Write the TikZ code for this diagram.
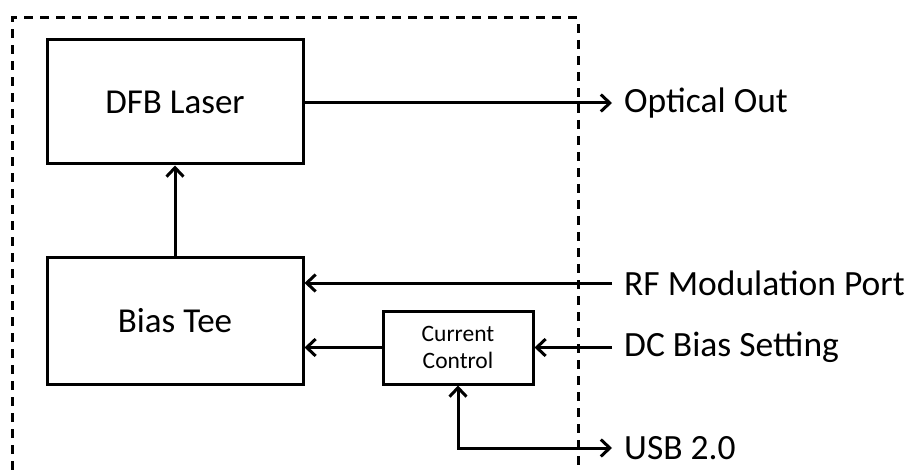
\documentclass[tikz,border=0pt]{standalone}
\usepackage{fontspec}
\setmainfont{Carlito}
\usetikzlibrary{arrows.meta}
\begin{document}
\begin{tikzpicture}[x=1pt,y=-1pt,
  blk/.style={draw=black, line width=3pt, minimum width=256pt, font=\fontsize{35}{40}\selectfont, inner sep=0pt},
  smallblk/.style={draw=black, line width=3pt, minimum width=150pt, minimum height=73pt, align=center, font=\fontsize{23.5}{27}\selectfont, inner sep=0pt},
  lbl/.style={anchor=west, inner xsep=12pt, inner ysep=0pt, font=\fontsize{35.5}{40}\selectfont},
  arr/.style={line width=3pt, -{Straight Barb[length=9pt,width=17pt,line width=3pt]}},
  barr/.style={line width=3pt, {Straight Barb[length=9pt,width=17pt,line width=3pt]}-{Straight Barb[length=9pt,width=17pt,line width=3pt]}},
  frame/.style={line width=3pt, dash pattern=on 9pt off 7pt}
]
\useasboundingbox (0,0) rectangle (907,470);
\draw[frame] (12,470) -- (12,18) -- (578,18) -- (578,470);

\node[blk, minimum height=124pt] (dfb) at (175,102) {DFB Laser};
\node[blk, minimum height=126pt] (bias) at (175,321) {Bias Tee};
\node[smallblk] (cc) at (458,347.5) {Current\\Control};

\node[lbl] (opt) at (612,103) {Optical Out};
\node[lbl] (rf) at (612,283) {RF Modulation Port};
\node[lbl] (dc) at (612,347.5) {DC Bias Setting};
\node[lbl] (usb) at (612,448) {USB 2.0};

\draw[arr] (dfb.east |- opt.west) -- (opt.west);
\draw[arr] (bias.north) -- (dfb.south);
\draw[arr] (rf.west) -- (rf.west -| bias.east);
\draw[arr] (dc.west) -- (cc.east);
\draw[arr] (cc.west) -- (cc.west -| bias.east);
\draw[barr] (cc.south) |- (usb.west);
\end{tikzpicture}
\end{document}
